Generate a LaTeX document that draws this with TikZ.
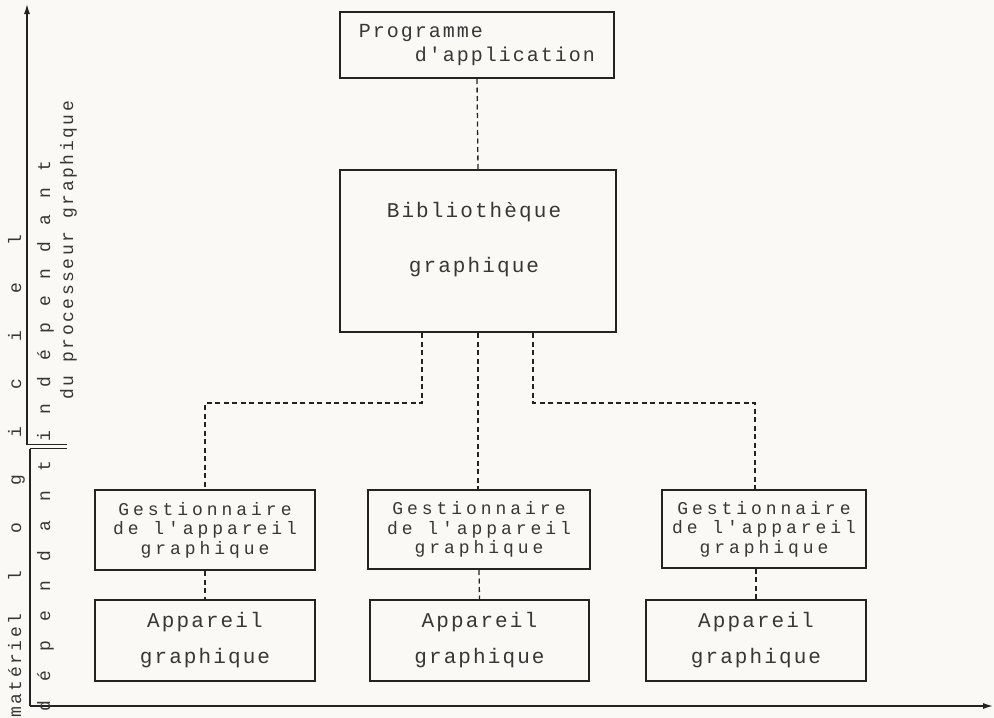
\documentclass[tikz,border=0pt]{standalone}
\usepackage{fontspec}
\newfontfamily\tw{Liberation Mono}[LetterSpace=10]
\newfontfamily\twg{Liberation Mono}[LetterSpace=22]
\newfontfamily\twv{Liberation Mono}[LetterSpace=14]
\newfontfamily\twind{Liberation Mono}[LetterSpace=90]
\newfontfamily\twdep{Liberation Mono}[LetterSpace=107]
\newfontfamily\twlog{Liberation Mono}[LetterSpace=207]
\usetikzlibrary{arrows.meta}
\definecolor{ink}{RGB}{35,35,35}
\definecolor{txt}{RGB}{55,55,55}
\definecolor{paper}{RGB}{250,249,245}
\begin{document}
\begin{tikzpicture}[x=1pt,y=-1pt,
  box/.style={draw=ink, line width=2pt, inner sep=0pt, text=txt, align=center},
  gfont/.style={font=\twg\fontsize{18}{19.5}\selectfont},
  afont/.style={font=\tw\fontsize{21}{36}\selectfont},
  conn/.style={draw=ink, line width=1.3pt, dash pattern=on 5pt off 3.5pt},
  axis/.style={draw=ink, line width=2pt},
  tip/.style={-{Latex[length=11pt,width=6pt]}},
  vlab/.style={rotate=90, anchor=base west, inner sep=0pt, text=txt}
]
\fill[paper] (0,0) rectangle (994,718);
\useasboundingbox (0,0) rectangle (994,718);

% boxes
\node[box, minimum width=274pt, minimum height=66pt, align=left,
      font=\tw\fontsize{20}{24}\selectfont] (prog) at (477,45)
      {Programme\\\hspace*{56pt}d'application};
\node[box, minimum width=276pt, minimum height=162pt] (bib) at (478,251) {};
\node[text=txt, align=center, inner sep=0pt,
      font=\tw\fontsize{21}{55}\selectfont] (bibt) at (474,240)
      {Bibliothèque\\graphique};

\node[box, gfont, minimum width=220pt, minimum height=80pt] (g1) at (205,530)
      {Gestionnaire\\de l'appareil\\graphique};
\node[box, gfont, minimum width=222pt, minimum height=79pt] (g2) at (479,529.5)
      {Gestionnaire\\de l'appareil\\graphique};
\node[box, gfont, minimum width=204pt, minimum height=78pt] (g3) at (764,529)
      {Gestionnaire\\de l'appareil\\graphique};

\node[box, afont, minimum width=220pt, minimum height=81pt] (a1) at (205,640.5)
      {Appareil\\graphique};
\node[box, afont, minimum width=219pt, minimum height=81pt] (a2) at (479.5,640.5)
      {Appareil\\graphique};
\node[box, afont, minimum width=220pt, minimum height=81pt] (a3) at (756,640.5)
      {Appareil\\graphique};

% connectors
\coordinate (k1) at (422,403);
\coordinate (k3) at (533,403);
\coordinate (k4) at (755,403);
\draw[conn] (prog.south) -- (bib.north);
\draw[conn] (bib.south -| k1) -- (k1) -| (g1.north);
\draw[conn] (bib.south) -- (bib.south |- g2.north);
\draw[conn] (bib.south -| k3) |- (k4) -- (k4 |- g3.north);
\draw[conn] (g1.south) -- (a1.north);
\draw[conn] (g2.south) -- (a2.north);
\draw[conn] (a3.north) -- (a3.north |- g3.south);

% axes
\coordinate (o) at (30,706);
\coordinate (xe) at (994,706);
\coordinate (lt) at (30,449);
\coordinate (ub) at (27,444.5);
\coordinate (ye) at (27,3);
\coordinate (bar1) at (67,444.5);
\coordinate (bar2) at (67,448.5);
\coordinate (bar2s) at (30,448.5);
\draw[axis, tip] (o) -- (xe);
\draw[axis] (o) -- (lt);
\draw[axis, tip] (ub) -- (ye);
\draw[draw=ink, line width=1.2pt] (ub) -- (bar1);
\draw[draw=ink, line width=1.2pt] (bar2s) -- (bar2);

% axis labels
\node[vlab, font=\twv\fontsize{18}{18}\selectfont] (mat) at (21,718) {matériel};
\node[vlab, font=\twlog\fontsize{18}{18}\selectfont] (logi) at (21,582) {logiciel};
\node[vlab, font=\twdep\fontsize{18}{18}\selectfont] (dep) at (50,712) {dépendant};
\node[vlab, font=\twind\fontsize{18}{18}\selectfont] (ind) at (50,442) {indépendant};
\node[vlab, font=\twv\fontsize{18}{18}\selectfont] (proc) at (73,400) {du processeur graphique};
\end{tikzpicture}
\end{document}
